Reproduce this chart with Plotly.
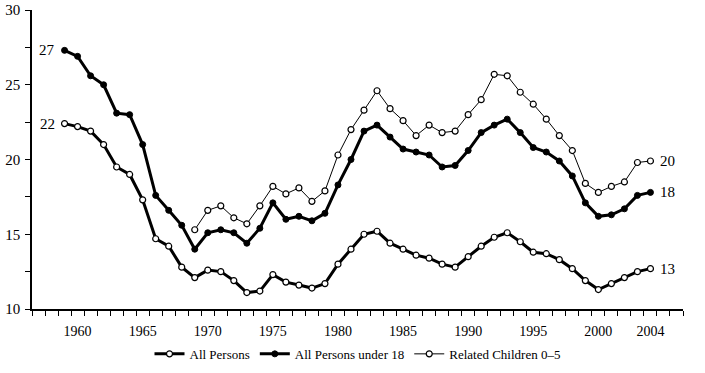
import plotly.graph_objects as go

years = list(range(1959, 2005))
all_persons = [22.4, 22.2, 21.9, 21.0, 19.5, 19.0, 17.3, 14.7, 14.2, 12.8,
               12.1, 12.6, 12.5, 11.9, 11.1, 11.2, 12.3, 11.8, 11.6, 11.4,
               11.7, 13.0, 14.0, 15.0, 15.2, 14.4, 14.0, 13.6, 13.4, 13.0,
               12.8, 13.5, 14.2, 14.8, 15.1, 14.5, 13.8, 13.7, 13.3, 12.7,
               11.9, 11.3, 11.7, 12.1, 12.5, 12.7]
under_18 = [27.3, 26.9, 25.6, 25.0, 23.1, 23.0, 21.0, 17.6, 16.6, 15.6,
            14.0, 15.1, 15.3, 15.1, 14.4, 15.4, 17.1, 16.0, 16.2, 15.9,
            16.4, 18.3, 20.0, 21.9, 22.3, 21.5, 20.7, 20.5, 20.3, 19.5,
            19.6, 20.6, 21.8, 22.3, 22.7, 21.8, 20.8, 20.5, 19.9, 18.9,
            17.1, 16.2, 16.3, 16.7, 17.6, 17.8]
years_child = list(range(1969, 2005))
children_0_5 = [15.3, 16.6, 16.9, 16.1, 15.7, 16.9, 18.2, 17.7, 18.1, 17.2,
                17.9, 20.3, 22.0, 23.3, 24.6, 23.4, 22.6, 21.6, 22.3, 21.8,
                21.9, 23.0, 24.0, 25.7, 25.6, 24.5, 23.7, 22.7, 21.6, 20.6,
                18.4, 17.8, 18.2, 18.5, 19.8, 19.9]
x_tick_years = [1960, 1965, 1970, 1975, 1980, 1985, 1990, 1995, 2000, 2004]
y_tick_vals = [10, 15, 20, 25, 30]

FONT = "Liberation Serif"

fig = go.Figure()
fig.add_trace(go.Scatter(
    x=years, y=all_persons, name="All Persons", mode="lines+markers",
    line=dict(color="black", width=3),
    marker=dict(symbol="circle", size=6, color="white",
                line=dict(color="black", width=1.2))))
fig.add_trace(go.Scatter(
    x=years, y=under_18, name="All Persons under 18", mode="lines+markers",
    line=dict(color="black", width=3),
    marker=dict(symbol="circle", size=6, color="black",
                line=dict(color="black", width=1))))
fig.add_trace(go.Scatter(
    x=years_child, y=children_0_5, name="Related Children 0\u20135", mode="lines+markers",
    line=dict(color="black", width=1),
    marker=dict(symbol="circle", size=6, color="white",
                line=dict(color="black", width=1.2))))

annotations = []
for xs, ys in [(years, under_18), (years, all_persons)]:
    annotations.append(dict(x=xs[0], y=ys[0], text=str(round(ys[0])),
                            xanchor="right", yanchor="middle", xshift=-8,
                            showarrow=False, font=dict(family=FONT, size=15, color="black")))
for xs, ys in [(years_child, children_0_5), (years, under_18), (years, all_persons)]:
    annotations.append(dict(x=xs[-1], y=ys[-1], text=str(round(ys[-1])),
                            xanchor="left", yanchor="middle", xshift=8,
                            showarrow=False, font=dict(family=FONT, size=15, color="black")))

fig.update_layout(
    template="none",
    width=705, height=373,
    margin=dict(l=32, r=22, t=10, b=64, autoexpand=False),
    paper_bgcolor="white", plot_bgcolor="white",
    font=dict(family=FONT, size=13, color="black"),
    showlegend=True,
    legend=dict(orientation="h", x=0.5, xanchor="center", y=-0.10, yanchor="top",
                font=dict(family=FONT, size=13), itemwidth=30,
                tracegroupgap=0, bgcolor="rgba(0,0,0,0)"),
    annotations=annotations,
    xaxis=dict(range=[1956.5, 2006.5], showgrid=False, zeroline=False,
               automargin=False,
               showline=True, linecolor="black", linewidth=1.5,
               tickmode="array", tickvals=x_tick_years,
               ticktext=[str(v) for v in x_tick_years], ticks="",
               ticklabelstandoff=8,
               tickfont=dict(family=FONT, size=14),
               minor=dict(tick0=1956.5, dtick=1, ticks="outside", ticklen=5,
                          tickcolor="black", tickwidth=1, showgrid=False)),
    yaxis=dict(range=[10, 30], showgrid=False, zeroline=False,
               automargin=False,
               showline=True, linecolor="black", linewidth=1.5,
               tickmode="array", tickvals=y_tick_vals, ticks="outside",
               ticklen=5, tickcolor="black", tickwidth=1,
               ticklabeloverflow="allow", ticklabelstandoff=2,
               tickfont=dict(family=FONT, size=15),
               minor=dict(dtick=2.5, tick0=10, ticks="outside", ticklen=5,
                          tickcolor="black", tickwidth=1, showgrid=False)),
)

fig.write_html("out.html", config={"displayModeBar": False},
               post_script="document.body.style.margin='0px';document.body.style.padding='0px';")
